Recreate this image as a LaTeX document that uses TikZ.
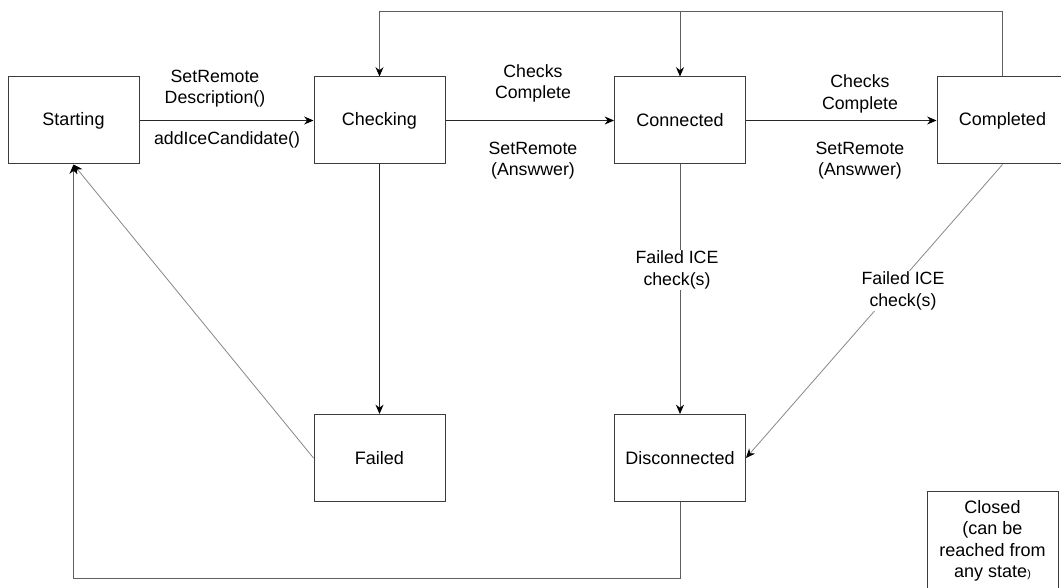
\documentclass[tikz,border=0pt]{standalone}
\usepackage{fontspec}
\setmainfont{Liberation Sans}
\usetikzlibrary{arrows.meta}

\definecolor{boxline}{RGB}{60,60,60}
\definecolor{darkline}{RGB}{40,40,40}
\definecolor{midline}{RGB}{95,95,95}
\definecolor{lightline}{RGB}{135,135,135}

\begin{document}
\begin{tikzpicture}[x=0.75pt,y=0.75pt,yscale=-1,xscale=1,
    state/.style={draw=boxline, line width=0.75pt, minimum width=98.25pt, minimum height=65.25pt, inner sep=0pt, align=center, font=\fontsize{13.5}{16}\selectfont},
    lbl/.style={align=center, inner sep=0.75pt, font=\fontsize{13.3}{16}\selectfont},
    trans/.style={draw=darkline, line width=0.75pt, -{Stealth[length=7pt,width=6pt,black]}},
    loop/.style={trans, draw=midline},
    diag/.style={trans, draw=lightline, line width=0.6pt}]
    \useasboundingbox (0,0) rectangle (1061,588);

    % States
    \node [state] (start) at (73.5,120.5) {Starting};
    \node [state] (check) at (379.5,120.5) {Checking};
    \node [state] (conn) at (680,120.5) {Connected};
    \node [state] (compl) at (1002.5,120.5) {Completed};
    \node [state] (fail) at (379.5,458) {Failed};
    \node [state] (disc) at (680,458) {Disconnected};
    \node [state, minimum height=75pt] (closed) at (992.5,541) {Closed\\(can be\\reached from\\any state{\footnotesize)}};

    % Transitions along the top row
    \draw [trans] (start) -- (check);
    \draw [trans] (check) -- (conn);
    \draw [trans] (conn) -- (compl);

    % Loop back over the top
    \coordinate (toploop) at (1002.5,12);
    \draw [loop] (compl.north) -- (toploop) -| (check.north);
    \draw [loop] (conn.north |- toploop) -- (conn.north);

    % Going down
    \draw [trans] (check) -- (fail);
    \draw [trans, draw=midline] (conn) -- (disc);
    \draw [diag] (compl.south) -- (disc.east);
    \draw [diag] (fail.west) -- (start.south);
    \draw [loop] (disc.south) -- ++(0,76) -| (start.south);

    % Labels
    \node [lbl] (l1) at (215,88.5) {SetRemote\\Description()};
    \node [lbl] (l2) at (227,140) {addIceCandidate()};
    \node [lbl] (l3) at (533,83.5) {Checks\\Complete};
    \node [lbl] (l4) at (533,160.5) {SetRemote\\(Answwer)};
    \node [lbl] (l5) at (860,94) {Checks\\Complete};
    \node [lbl] (l6) at (860,160.5) {SetRemote\\(Answwer)};
    \node [lbl, fill=white] (l7) at (677,270) {Failed ICE\\check(s)};
    \node [lbl, fill=white] (l8) at (903,291) {Failed ICE\\check(s)};

\end{tikzpicture}
\end{document}
